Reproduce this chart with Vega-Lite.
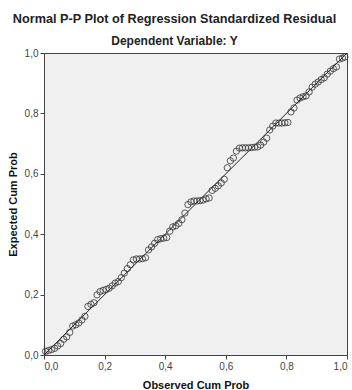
{
  "$schema": "https://vega.github.io/schema/vega-lite/v6.json",
  "autosize": "none",
  "width": 303,
  "height": 302,
  "padding": {"left": 44, "top": 53, "right": 5, "bottom": 35},
  "background": "#ffffff",
  "title": {
    "text": "Normal P-P Plot of Regression Standardized Residual",
    "subtitle": "Dependent Variable: Y",
    "anchor": "middle",
    "frame": "group",
    "dx": -21,
    "offset": 1,
    "font": "Liberation Sans",
    "fontSize": 12.7,
    "fontWeight": "bold",
    "color": "#222222",
    "subtitleFont": "Liberation Sans",
    "subtitleFontSize": 12,
    "subtitleFontWeight": "bold",
    "subtitleColor": "#222222",
    "subtitlePadding": 10
  },
  "config": {
    "view": {"fill": "#f0f0f0", "stroke": "#444444", "strokeWidth": 1},
    "axis": {
      "grid": false,
      "domainColor": "#444444",
      "tickColor": "#444444",
      "tickSize": 4,
      "labelFont": "Liberation Sans",
      "labelFontSize": 10,
      "labelColor": "#444444",
      "titleFont": "Liberation Sans",
      "titleFontSize": 11,
      "titleFontWeight": "bold",
      "titleColor": "#111111"
    }
  },
  "layer": [
    {
      "data": {"values": [{"x": 0, "y": 0}, {"x": 1, "y": 1}]},
      "mark": {"type": "line", "color": "#222222", "strokeWidth": 1},
      "encoding": {
        "x": {"field": "x", "type": "quantitative", "scale": {"domain": [0, 1]},
          "axis": {"title": "Observed Cum Prob", "values": [0, 0.2, 0.4, 0.6, 0.8, 1], "labelExpr": "replace(format(datum.value, '.1f'), '.', ',')", "titlePadding": 8}},
        "y": {"field": "y", "type": "quantitative", "scale": {"domain": [0, 1]},
          "axis": {"title": "Expected Cum Prob", "values": [0, 0.2, 0.4, 0.6, 0.8, 1], "labelExpr": "replace(format(datum.value, '.1f'), '.', ',')", "titlePadding": 6}}
      }
    },
    {
      "data": {"values": [
        {"x": 0.005, "y": 0.012}, {"x": 0.015, "y": 0.015}, {"x": 0.025, "y": 0.018}, {"x": 0.035, "y": 0.022},
        {"x": 0.045, "y": 0.03}, {"x": 0.055, "y": 0.038}, {"x": 0.065, "y": 0.052}, {"x": 0.075, "y": 0.06},
        {"x": 0.085, "y": 0.075}, {"x": 0.095, "y": 0.096}, {"x": 0.105, "y": 0.1}, {"x": 0.115, "y": 0.106},
        {"x": 0.125, "y": 0.116}, {"x": 0.135, "y": 0.128}, {"x": 0.145, "y": 0.161}, {"x": 0.155, "y": 0.168},
        {"x": 0.165, "y": 0.173}, {"x": 0.175, "y": 0.199}, {"x": 0.185, "y": 0.21}, {"x": 0.195, "y": 0.214},
        {"x": 0.205, "y": 0.217}, {"x": 0.215, "y": 0.221}, {"x": 0.225, "y": 0.229}, {"x": 0.235, "y": 0.238},
        {"x": 0.245, "y": 0.243}, {"x": 0.255, "y": 0.256}, {"x": 0.265, "y": 0.271}, {"x": 0.275, "y": 0.286},
        {"x": 0.285, "y": 0.299}, {"x": 0.295, "y": 0.315}, {"x": 0.305, "y": 0.318}, {"x": 0.315, "y": 0.318},
        {"x": 0.325, "y": 0.319}, {"x": 0.335, "y": 0.322}, {"x": 0.345, "y": 0.348}, {"x": 0.355, "y": 0.358},
        {"x": 0.365, "y": 0.37}, {"x": 0.375, "y": 0.382}, {"x": 0.385, "y": 0.385}, {"x": 0.395, "y": 0.387},
        {"x": 0.405, "y": 0.389}, {"x": 0.415, "y": 0.41}, {"x": 0.425, "y": 0.424}, {"x": 0.435, "y": 0.428},
        {"x": 0.445, "y": 0.436}, {"x": 0.455, "y": 0.448}, {"x": 0.465, "y": 0.47}, {"x": 0.475, "y": 0.498},
        {"x": 0.485, "y": 0.507}, {"x": 0.495, "y": 0.51}, {"x": 0.505, "y": 0.51}, {"x": 0.515, "y": 0.511},
        {"x": 0.525, "y": 0.513}, {"x": 0.535, "y": 0.517}, {"x": 0.545, "y": 0.52}, {"x": 0.555, "y": 0.545},
        {"x": 0.565, "y": 0.552}, {"x": 0.575, "y": 0.56}, {"x": 0.585, "y": 0.57}, {"x": 0.595, "y": 0.582},
        {"x": 0.605, "y": 0.62}, {"x": 0.615, "y": 0.643}, {"x": 0.625, "y": 0.652}, {"x": 0.635, "y": 0.675},
        {"x": 0.645, "y": 0.685}, {"x": 0.655, "y": 0.686}, {"x": 0.665, "y": 0.686}, {"x": 0.675, "y": 0.686},
        {"x": 0.685, "y": 0.687}, {"x": 0.695, "y": 0.688}, {"x": 0.705, "y": 0.689}, {"x": 0.715, "y": 0.695},
        {"x": 0.725, "y": 0.705}, {"x": 0.735, "y": 0.718}, {"x": 0.745, "y": 0.745}, {"x": 0.755, "y": 0.758},
        {"x": 0.765, "y": 0.768}, {"x": 0.775, "y": 0.768}, {"x": 0.785, "y": 0.768}, {"x": 0.795, "y": 0.769},
        {"x": 0.805, "y": 0.77}, {"x": 0.815, "y": 0.805}, {"x": 0.825, "y": 0.818}, {"x": 0.835, "y": 0.844},
        {"x": 0.845, "y": 0.851}, {"x": 0.855, "y": 0.855}, {"x": 0.865, "y": 0.858}, {"x": 0.875, "y": 0.871},
        {"x": 0.885, "y": 0.887}, {"x": 0.895, "y": 0.897}, {"x": 0.905, "y": 0.904}, {"x": 0.915, "y": 0.912},
        {"x": 0.925, "y": 0.918}, {"x": 0.935, "y": 0.93}, {"x": 0.945, "y": 0.94}, {"x": 0.955, "y": 0.948},
        {"x": 0.965, "y": 0.954}, {"x": 0.975, "y": 0.98}, {"x": 0.985, "y": 0.983}, {"x": 0.993, "y": 0.987}
      ]},
      "mark": {"type": "point", "shape": "circle", "filled": false, "color": "#333333", "strokeWidth": 0.8, "size": 40, "opacity": 1},
      "encoding": {
        "x": {"field": "x", "type": "quantitative"},
        "y": {"field": "y", "type": "quantitative"}
      }
    }
  ]
}
